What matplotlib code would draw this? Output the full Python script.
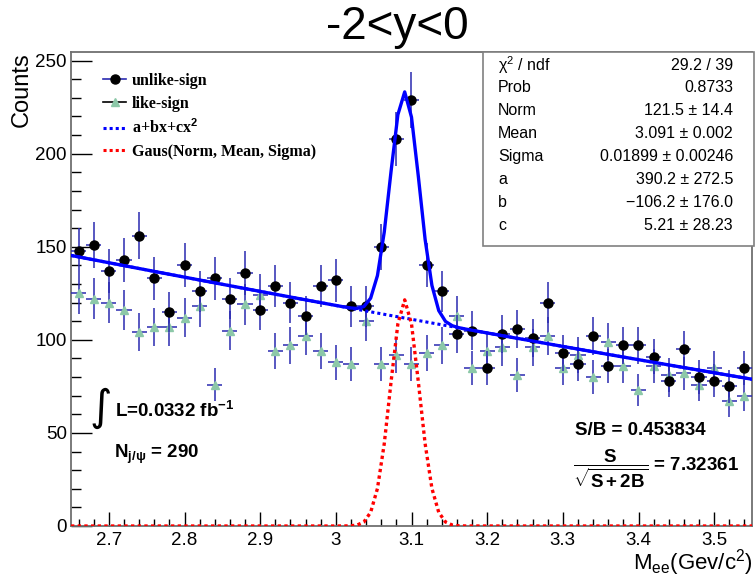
import numpy as np
import matplotlib
matplotlib.use('Agg')
import matplotlib.pyplot as plt
from matplotlib.lines import Line2D
from matplotlib.patches import Rectangle
from matplotlib.ticker import MultipleLocator

plt.rcParams['font.family'] = ['Liberation Sans', 'DejaVu Sans']
plt.rcParams['mathtext.fontset'] = 'custom'
plt.rcParams['mathtext.rm'] = 'Liberation Sans'
plt.rcParams['mathtext.it'] = 'Liberation Sans:italic'
plt.rcParams['mathtext.bf'] = 'Liberation Sans:bold'
plt.rcParams['mathtext.sf'] = 'Liberation Sans'

# histogram binning (M_ee)
bin_lo, bin_hi, n_bins = 2.65, 3.55, 45

unlike_counts = [148, 151, 137, 143, 156, 133, 115, 140, 126, 133,
                 122, 136, 116, 129, 120, 113, 129, 132, 118, 118,
                 150, 208, 229, 140, 126, 103, 105, 85, 103, 106,
                 101, 120, 93, 87, 102, 86, 97, 97, 91, 78,
                 95, 80, 78, 75, 85]
like_counts = [125, 122, 120, 116, 104, 107, 107, 112, 118, 76,
               105, 119, 124, 94, 97, 102, 94, 88, 87, 110,
               87, 92, 87, 93, 97, 113, 85, 94, 96, 81,
               96, 102, 85, 92, 80, 99, 86, 73, 86, 81,
               82, 76, 85, 67, 70]

# fit parameters (from the stats box)
fit_norm, fit_mean, fit_sigma = 121.5, 3.091, 0.01899
fit_a, fit_b, fit_c = 390.2, -106.2, 5.21

stat_labels = ['\u03c7$^{2}$ / ndf', 'Prob', 'Norm', 'Mean', 'Sigma', 'a', 'b', 'c']
stat_values = ['29.2 / 39', '0.8733', '121.5 \u00b1 14.4', '3.091 \u00b1 0.002',
               '0.01899 \u00b1 0.00246', '390.2 \u00b1 272.5',
               '\u2212106.2 \u00b1 176.0', '5.21 \u00b1 28.23']

W, H = 756, 577


def fx(px):
    return px / W


def fy(py):
    return 1 - py / H


edges = np.linspace(bin_lo, bin_hi, n_bins + 1)
centers = 0.5 * (edges[:-1] + edges[1:])
half_w = 0.5 * (edges[1] - edges[0])
unlike = np.array(unlike_counts, dtype=float)
like = np.array(like_counts, dtype=float)

xf = np.linspace(bin_lo, bin_hi, 101)
bkg = fit_a + fit_b * xf + fit_c * xf ** 2
gaus = fit_norm * np.exp(-0.5 * ((xf - fit_mean) / fit_sigma) ** 2)

fig = plt.figure(figsize=(W / 100, H / 100), dpi=100)
ax = fig.add_axes([fx(71), fy(526), (752 - 71) / W, (526 - 51.7) / H])

err_col = '#2a2ab0'
ax.errorbar(centers, like, yerr=np.sqrt(like), xerr=half_w, fmt='^',
            color='#8cc8a8', ms=6, ecolor=err_col, elinewidth=1.1,
            capsize=0, zorder=3)
ax.errorbar(centers, unlike, yerr=np.sqrt(unlike), xerr=half_w, fmt='o',
            color='black', ms=6.5, ecolor=err_col, elinewidth=1.1,
            capsize=0, zorder=4)

ax.plot(xf, bkg, color='blue', lw=2.2, ls=(0, (1, 1)), zorder=5)
ax.plot(xf, gaus, color='red', lw=2.4, ls=(0, (1, 1)), zorder=5)
ax.plot(xf, bkg + gaus, color='blue', lw=2.4, zorder=6)

ax.set_xlim(bin_lo, bin_hi)
ax.set_ylim(0, 254.8)
ax.xaxis.set_major_locator(MultipleLocator(0.1))
ax.xaxis.set_minor_locator(MultipleLocator(0.02))
ax.yaxis.set_major_locator(MultipleLocator(50))
ax.yaxis.set_minor_locator(MultipleLocator(10))
ax.xaxis.set_major_formatter(plt.FuncFormatter(lambda v, p: ('%.1f' % v).rstrip('0').rstrip('.')))
ax.tick_params(axis='x', which='major', direction='in', length=10, width=1,
               labelsize=13.5, pad=4)
ax.tick_params(axis='x', which='minor', direction='in', length=5.4, width=1)
ax.tick_params(axis='y', which='major', direction='in', length=15, width=1,
               labelsize=13.5, pad=3)
ax.tick_params(axis='y', which='minor', direction='in', length=7.2, width=1)
for sp in ax.spines.values():
    sp.set_color('#707070')
    sp.set_linewidth(1.3)

# legend
handles = [
    Line2D([], [], color='#2a2ab0', lw=1.2, marker='o', mfc='black', mec='black', ms=6.5),
    Line2D([], [], color='black', lw=1.2, marker='^', mfc='#8cc8a8', mec='#8cc8a8', ms=6),
    Line2D([], [], color='blue', lw=2.2, ls=(0, (1, 1))),
    Line2D([], [], color='red', lw=2.2, ls=(0, (1, 1))),
]
labels = ['unlike-sign', 'like-sign', 'a+bx+cx$^{\\mathbf{2}}$', 'Gaus(Norm, Mean, Sigma)']
fig.legend(handles, labels, loc='upper left', bbox_to_anchor=(fx(103), fy(73)),
           bbox_transform=fig.transFigure, frameon=False, borderpad=0,
           borderaxespad=0, handlelength=1.45, handletextpad=0.35,
           labelspacing=0.42, prop={'family': 'Liberation Serif', 'weight': 'bold', 'size': 11.5})

# stats box
fig.patches.append(Rectangle((fx(482.7), fy(246)), (754 - 482.7) / W, (246 - 51.7) / H,
                             transform=fig.transFigure, facecolor='white',
                             edgecolor='#808080', lw=1.2, zorder=8))
for i, (lab, val) in enumerate(zip(stat_labels, stat_values)):
    yy = fy(65 + 22.9 * i)
    fig.text(fx(498), yy, lab, fontsize=11.5, va='center', ha='left', zorder=9)
    fig.text(fx(733), yy, val, fontsize=11.5, va='center', ha='right', zorder=9)

# titles
fig.text(fx(397), fy(27), '-2<y<0', fontsize=33, ha='center', va='center')
fig.text(fx(22), fy(52), 'Counts', fontsize=17, rotation=90, ha='center', va='top')
fig.text(fx(753), fy(570), 'M$_{\\mathrm{ee}}$(Gev/c$^{2}$)', fontsize=16,
         ha='right', va='baseline')

# annotations
fig.text(fx(112), fy(408), '\u222b', fontsize=31, family='DejaVu Sans',
         ha='right', va='center')
fig.text(fx(115), fy(417), 'L=0.0332 fb$^{\\mathbf{-1}}$', fontsize=13.5,
         fontweight='bold', ha='left', va='baseline')
fig.text(fx(114), fy(458), '$\\mathbf{N_{j/\u03c8}}$ = 290', fontsize=13.5,
         fontweight='bold', ha='left', va='baseline')
fig.text(fx(575), fy(435), 'S/B = 0.453834', fontsize=13.5,
         fontweight='bold', ha='left', va='baseline')
fig.text(fx(573), fy(469), '$\\mathbf{\\dfrac{S}{\\sqrt{S+2B}}}$ = 7.32361', fontsize=13.5,
         fontweight='bold', ha='left', va='center')

fig.savefig('out.png', dpi=100)
